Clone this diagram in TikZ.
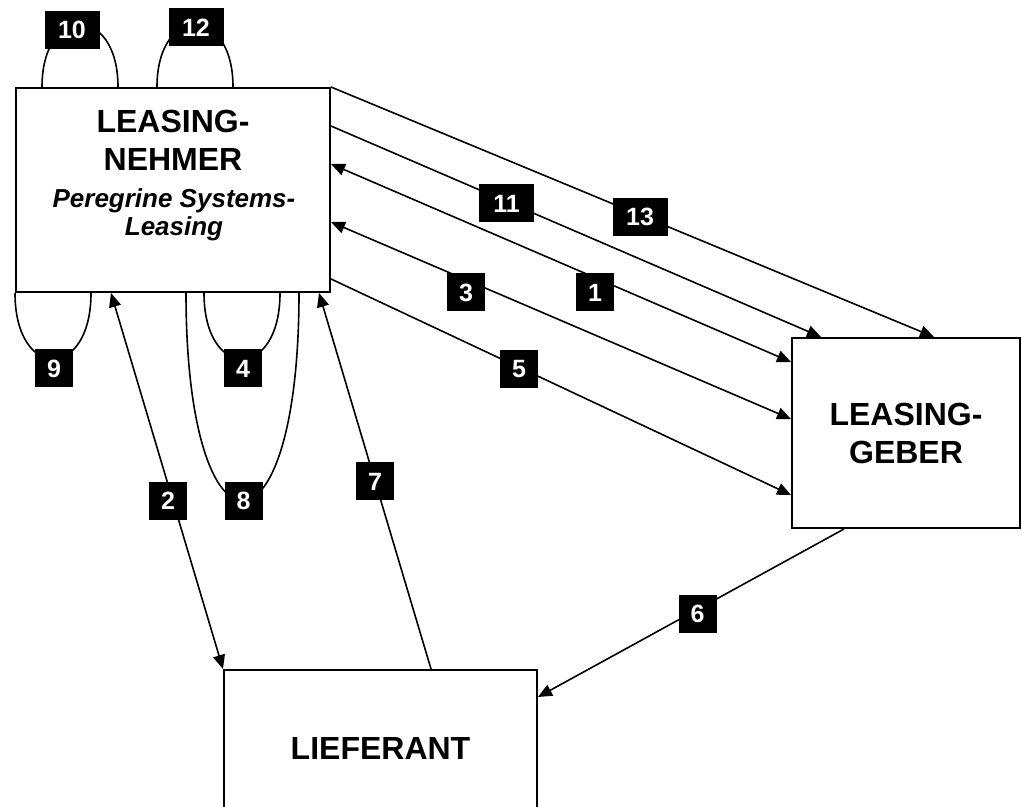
\documentclass[tikz,border=0pt]{standalone}
\usepackage{fontspec}
\setmainfont{Liberation Sans}
\usetikzlibrary{arrows.meta}

\begin{document}
\begin{tikzpicture}[
    x = 1pt, y = 1pt,
    party/.style   = {rectangle, draw=black, line width=2pt,
                      fill=white, inner sep=0pt},
    bigtext/.style = {font=\fontsize{32}{38}\selectfont\bfseries,
                      align=center, inner sep=0pt},
    subtext/.style = {font=\fontsize{26}{28}\selectfont\bfseries\itshape,
                      align=center, inner sep=0pt},
    nr/.style      = {rectangle, fill=black, text=white,
                      font=\fontsize{25}{25}\selectfont\bfseries,
                      minimum width=38pt, minimum height=38pt,
                      inner sep=0pt},
    nrw/.style     = {nr, minimum width=55pt},
    flow/.style    = {line width=1.6pt,
                      -{Triangle[length=14pt, width=12pt]}},
    twoway/.style  = {line width=1.6pt,
                      {Triangle[length=14pt, width=12pt]}-{Triangle[length=14pt, width=12pt]}},
    selfline/.style = {line width=1.6pt}
]
\useasboundingbox (0,0) rectangle (1022,806);
\clip (0,0) rectangle (1022,806);

%% Parties
\node[party, minimum width=314pt, minimum height=204pt] (ln) at (173,616) {};
\node[bigtext, anchor=north] (lnname) at (173,696) {LEASING-\\NEHMER};
\node[subtext, anchor=north] (lnsub) at (174,618) {Peregrine Systems-\\Leasing};

\node[party, bigtext, minimum width=228pt, minimum height=190pt]
    (lg) at (906,373) {LEASING-\\GEBER};
\node[party, bigtext, minimum width=313pt, minimum height=156pt]
    (lf) at (380.5,58) {LIEFERANT};

%% Flows to the Leasing-Geber
\draw[flow]   (ln.north east)               -- ([xshift=143pt]lg.north west);
\draw[flow]   ([yshift=-39pt]ln.north east)  -- ([xshift=30pt]lg.north west);
\draw[twoway] ([yshift=-77pt]ln.north east)  -- ([yshift=-25pt]lg.north west);
\draw[twoway] ([yshift=-135pt]ln.north east) -- ([yshift=-82pt]lg.north west);
\draw[flow]   ([yshift=-192pt]ln.north east) -- ([yshift=-158pt]lg.north west);

%% Flows with the Lieferant
\draw[twoway] ([xshift=96pt]ln.south west)  -- (lf.north west);
\draw[flow]   ([xshift=208pt]lf.north west) -- ([xshift=-12pt]ln.south east);
\draw[flow]   ([xshift=53pt]lg.south west)  -- ([yshift=-28pt]lf.north east);

%% Internal steps
\draw[selfline] ([xshift=27pt]ln.north west)
    .. controls +(0,83) and +(0,83) .. ([xshift=103pt]ln.north west);
\draw[selfline] ([xshift=142pt]ln.north west)
    .. controls +(0,83) and +(0,83) .. ([xshift=218pt]ln.north west);
\draw[selfline] (ln.south west)
    .. controls +(0,-88) and +(0,-88) .. ([xshift=76pt]ln.south west);
\draw[selfline] ([xshift=189pt]ln.south west)
    .. controls +(0,-88) and +(0,-88) .. ([xshift=265pt]ln.south west);
\draw[selfline] ([xshift=171pt]ln.south west)
    .. controls +(0,-277) and +(0,-277) .. ([xshift=284pt]ln.south west);

%% Step numbers
\node[nr]  (n1)  at (595,513.5)   {1};
\node[nr]  (n2)  at (168,305.3)   {2};
\node[nr]  (n3)  at (466,513.5)   {3};
\node[nr]  (n4)  at (243,437.5)   {4};
\node[nr]  (n5)  at (519,437)     {5};
\node[nr]  (n6)  at (697.5,192)   {6};
\node[nr]  (n7)  at (375,324.5)   {7};
\node[nr]  (n8)  at (243.5,305.3) {8};
\node[nr]  (n9)  at (54,437.5)    {9};
\node[nrw] (n10) at (72,776)      {10};
\node[nrw] (n11) at (506.5,602.5) {11};
\node[nrw] (n12) at (196,778.5)   {12};
\node[nrw] (n13) at (640,589)     {13};
\end{tikzpicture}
\end{document}
